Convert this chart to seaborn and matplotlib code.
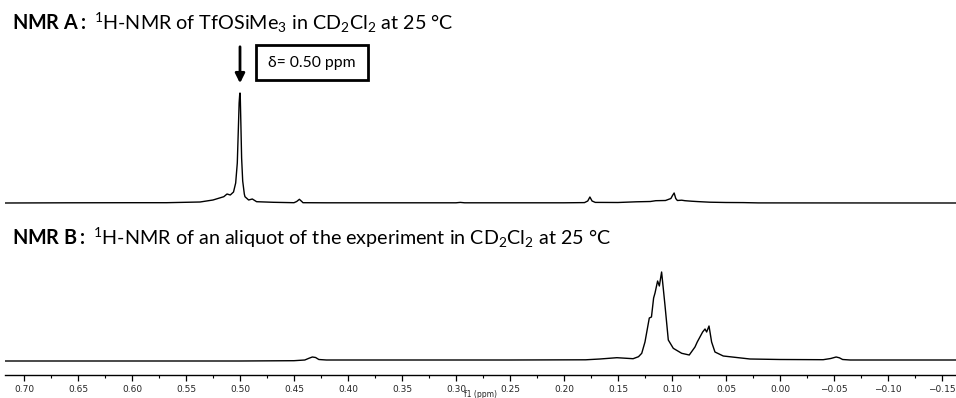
import matplotlib
matplotlib.use("Agg")
import matplotlib.pyplot as plt
import matplotlib.ticker as mticker
from matplotlib.patches import Rectangle, FancyArrowPatch
import numpy as np
import pandas as pd
import seaborn as sns

# Traced 1H-NMR traces: chemical shift (ppm) and intensity (arbitrary units)
ppm_a = [0.7176, 0.66, 0.60, 0.568, 0.537, 0.525, 0.515, 0.512, 0.509, 0.506,
         0.504, 0.5025, 0.5015, 0.5008, 0.5003, 0.5000, 0.4997, 0.4992, 0.4985,
         0.4975, 0.496, 0.4954, 0.492, 0.4886, 0.4846, 0.469, 0.45, 0.4475,
         0.445, 0.4425, 0.4417, 0.42, 0.30, 0.296, 0.292, 0.20, 0.181, 0.178,
         0.176, 0.174, 0.171, 0.15, 0.133, 0.12, 0.115, 0.106, 0.101, 0.0995,
         0.098, 0.0965, 0.095, 0.091, 0.088, 0.082, 0.076, 0.065, 0.050, 0.034,
         0.02, -0.163]
int_a = [0.0, 0.2, 0.3, 0.3, 1.0, 3.0, 6.3, 9.0, 8.0, 11.0,
         20.0, 40.0, 75.0, 100.0, 108.0, 110.0, 104.0, 80.0, 45.0,
         22.0, 9.0, 6.3, 3.0, 4.0, 1.3, 0.7, 0.3, 1.5,
         3.7, 1.2, 0.3, 0.2, 0.2, 0.6, 0.2, 0.2, 0.4, 2.0,
         6.0, 2.0, 0.6, 0.5, 1.2, 1.5, 2.3, 2.5, 4.5, 7.5,
         10.0, 4.5, 2.5, 2.8, 2.3, 1.8, 1.4, 0.8, 0.5, 0.4,
         0.1, 0.0]

ppm_b = [0.7176, 0.50, 0.45, 0.44, 0.436, 0.433, 0.430, 0.427, 0.42, 0.35,
         0.25, 0.18, 0.1667, 0.151, 0.136, 0.131, 0.128, 0.125, 0.121, 0.119,
         0.117, 0.1157, 0.1133, 0.1117, 0.1096, 0.1065, 0.1034, 0.0988, 0.091,
         0.084, 0.0787, 0.0766, 0.0741, 0.0716, 0.0694, 0.0679, 0.0657, 0.0633,
         0.0602, 0.0525, 0.0278, 0.0, -0.04, -0.047, -0.052, -0.055, -0.058,
         -0.065, -0.10, -0.163]
int_b = [0.0, 0.0, 0.3, 1.0, 2.8, 4.0, 3.5, 1.5, 1.0, 1.0,
         1.0, 1.2, 2.0, 3.3, 2.3, 4.3, 7.7, 19.0, 43.0, 44.0,
         63.0, 68.0, 80.0, 75.0, 89.0, 56.0, 21.0, 12.7, 7.7,
         6.0, 14.0, 19.0, 24.0, 29.0, 32.0, 29.0, 35.0, 19.0,
         9.0, 5.0, 2.0, 1.5, 1.3, 2.5, 4.0, 3.2, 1.5,
         1.0, 1.0, 1.0]

tick_values = [0.70, 0.65, 0.60, 0.55, 0.50, 0.45, 0.40, 0.35, 0.30, 0.25,
               0.20, 0.15, 0.10, 0.05, 0.00, -0.05, -0.10, -0.15]

sns.set_theme(style="white")
plt.rcParams["font.family"] = ["Lato", "DejaVu Sans"]
plt.rcParams["mathtext.fontset"] = "custom"
plt.rcParams["mathtext.rm"] = "Lato"
plt.rcParams["mathtext.bf"] = "Lato:bold"
plt.rcParams["mathtext.it"] = "Lato:italic"

W, H = 956, 398
fig = plt.figure(figsize=(W / 100, H / 100), dpi=100)
ax = fig.add_axes([5 / W, 23 / H, 951 / W, 375 / H])

offset_a = 172.0
offset_b = 14.0
df_a = pd.DataFrame({"ppm": ppm_a, "y": np.array(int_a) + offset_a})
df_b = pd.DataFrame({"ppm": ppm_b, "y": np.array(int_b) + offset_b})
sns.lineplot(data=df_a, x="ppm", y="y", ax=ax, color="black", lw=1.0,
             estimator=None, sort=False)
sns.lineplot(data=df_b, x="ppm", y="y", ax=ax, color="black", lw=1.0,
             estimator=None, sort=False)

ax.set_xlim(0.7176, -0.163)
ax.set_ylim(0, 375)
for side in ("top", "left", "right"):
    ax.spines[side].set_visible(False)
ax.spines["bottom"].set_color("black")
ax.spines["bottom"].set_linewidth(1.0)
ax.set_yticks([])
ax.set_ylabel("")
ax.xaxis.set_major_locator(mticker.FixedLocator(tick_values))
ax.xaxis.set_minor_locator(mticker.MultipleLocator(0.025))
ax.xaxis.set_major_formatter(mticker.FuncFormatter(
    lambda v, p: f"{v:.2f}".replace("-", "\u2212")))
ax.tick_params(axis="x", which="major", direction="out", length=4.5, width=0.9,
               color="black", labelsize=6.5, pad=3, bottom=True)
ax.tick_params(axis="x", which="minor", direction="out", length=2.5, width=0.8,
               color="black", bottom=True)
for lab in ax.get_xticklabels():
    lab.set_family("DejaVu Sans")
ax.set_xlabel("f1 (ppm)", fontsize=5.5, family="DejaVu Sans", labelpad=-3)

# Headings for the two spectra
fig.text(12 / W, 1 - 30 / H,
         r"$\mathbf{NMR\ A:}$ $^{1}$H-NMR of TfOSiMe$_{3}$ in CD$_{2}$Cl$_{2}$ at 25 °C",
         fontsize=14.2, va="baseline", ha="left", color="black")
fig.text(12 / W, 1 - 245 / H,
         r"$\mathbf{NMR\ B:}$ $^{1}$H-NMR of an aliquot of the experiment in CD$_{2}$Cl$_{2}$ at 25 °C",
         fontsize=14.2, va="baseline", ha="left", color="black")

# Arrow and label for the TMS-triflate singlet
fig.add_artist(FancyArrowPatch(
    (240 / W, 1 - 44 / H), (240 / W, 1 - 86 / H), transform=fig.transFigure,
    arrowstyle="-|>", mutation_scale=14, lw=2.0, color="black"))
fig.add_artist(Rectangle((256 / W, 1 - 80 / H), 112 / W, 35 / H,
                         transform=fig.transFigure, fill=False,
                         edgecolor="black", lw=2.0))
fig.text(312 / W, 1 - 63 / H, "δ= 0.50 ppm", fontsize=11.3, ha="center",
         va="center", color="black")

fig.savefig("out.png", dpi=100)
